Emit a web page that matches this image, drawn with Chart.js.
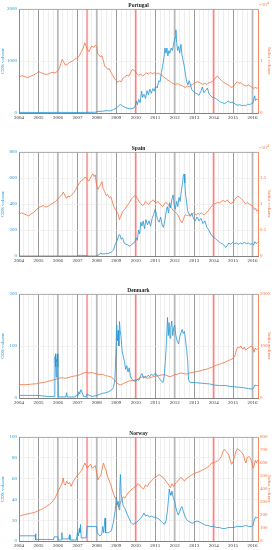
<!DOCTYPE html>
<html>
<head>
<meta charset="utf-8">
<script src="https://cdn.jsdelivr.net/npm/chart.js@4.4.1/dist/chart.umd.min.js"></script>
<style>
  html, body { margin: 0; padding: 0; background: #fff; }
  #wrap { position: relative; width: 278px; height: 550px; }
  #wrap canvas { position: absolute; left: 0; }
</style>
</head>
<body>
<div id="wrap"></div>
<script>
// CDS volume (left axis) and index volume (right axis), [year, value]

const cdsPortugal = [[2004.0,12],[2005.0,10],[2006.0,12],[2007.0,10],[2007.5,12],[2007.95,15],[2008.05,30],[2008.3,35],[2008.5,45],[2008.7,40],[2008.85,65],[2009.0,90],[2009.1,130],[2009.2,165],[2009.3,140],[2009.4,120],[2009.5,100],[2009.6,85],[2009.75,80],[2009.9,95],[2009.97,140],[2010.03,230],[2010.08,160],[2010.15,260],[2010.22,200],[2010.3,420],[2010.35,300],[2010.42,360],[2010.5,280],[2010.58,430],[2010.65,350],[2010.72,460],[2010.8,380],[2010.88,470],[2010.95,420],[2011.02,520],[2011.1,480],[2011.18,620],[2011.25,600],[2011.32,780],[2011.38,900],[2011.44,1050],[2011.5,1250],[2011.55,1150],[2011.6,1250],[2011.65,1100],[2011.7,1200],[2011.75,1150],[2011.82,1250],[2011.88,1200],[2011.93,1300],[2011.98,1380],[2012.02,1450],[2012.06,1600],[2012.1,1350],[2012.15,1200],[2012.2,1280],[2012.26,1150],[2012.32,1320],[2012.38,1100],[2012.44,1000],[2012.5,880],[2012.56,720],[2012.62,600],[2012.68,540],[2012.74,620],[2012.8,560],[2012.88,450],[2012.95,420],[2013.05,390],[2013.15,370],[2013.25,340],[2013.35,420],[2013.42,500],[2013.5,390],[2013.6,440],[2013.68,480],[2013.76,370],[2013.85,330],[2013.95,300],[2014.05,290],[2014.15,270],[2014.25,240],[2014.35,210],[2014.45,200],[2014.55,180],[2014.65,200],[2014.75,230],[2014.85,200],[2014.95,210],[2015.05,190],[2015.15,160],[2015.25,150],[2015.35,160],[2015.45,140],[2015.55,150],[2015.65,140],[2015.75,170],[2015.85,160],[2015.95,180],[2016.02,190],[2016.07,280],[2016.11,330],[2016.15,240],[2016.2,270],[2016.27,250]];

const idxPortugal = [[2004.0,6900],[2004.15,7200],[2004.3,7000],[2004.45,6800],[2004.6,7100],[2004.75,7300],[2004.9,7600],[2005.0,8000],[2005.1,7800],[2005.25,7600],[2005.4,7400],[2005.55,7600],[2005.7,7800],[2005.85,7700],[2006.0,8100],[2006.08,8700],[2006.15,9500],[2006.22,10300],[2006.3,9800],[2006.38,9200],[2006.5,9400],[2006.62,9800],[2006.75,10000],[2006.88,10400],[2007.0,10600],[2007.1,11000],[2007.2,11800],[2007.3,12500],[2007.38,13500],[2007.45,12800],[2007.52,12200],[2007.6,11800],[2007.68,12500],[2007.76,12900],[2007.84,12600],[2007.92,13000],[2008.0,12800],[2008.04,11400],[2008.1,11200],[2008.18,10800],[2008.26,11000],[2008.33,10200],[2008.4,9000],[2008.48,8800],[2008.56,8400],[2008.64,8500],[2008.72,7800],[2008.8,7400],[2008.9,6600],[2009.0,6300],[2009.08,5900],[2009.16,6200],[2009.25,6000],[2009.35,6700],[2009.45,7000],[2009.55,7300],[2009.65,7100],[2009.75,7900],[2009.82,8400],[2009.9,8200],[2009.98,8000],[2010.05,7600],[2010.15,7200],[2010.25,7500],[2010.35,7100],[2010.45,7400],[2010.55,7700],[2010.65,7500],[2010.75,7800],[2010.85,7600],[2010.95,7700],[2011.05,7500],[2011.15,7700],[2011.25,7400],[2011.35,7200],[2011.45,6900],[2011.55,6600],[2011.65,6300],[2011.75,6100],[2011.85,5800],[2011.95,5600],[2012.05,5500],[2012.15,5700],[2012.25,5400],[2012.35,5300],[2012.45,5100],[2012.55,4900],[2012.65,5200],[2012.75,5000],[2012.85,5400],[2012.95,5600],[2013.05,5800],[2013.15,6000],[2013.25,5900],[2013.35,5700],[2013.45,5500],[2013.55,5700],[2013.65,5500],[2013.75,5800],[2013.85,5900],[2013.95,6100],[2014.05,6500],[2014.12,6900],[2014.2,7100],[2014.28,6700],[2014.36,6400],[2014.45,6100],[2014.55,5800],[2014.65,5600],[2014.75,5400],[2014.85,5100],[2014.95,4900],[2015.05,5300],[2015.15,5800],[2015.22,6000],[2015.3,5700],[2015.4,5800],[2015.5,5500],[2015.6,5300],[2015.7,5200],[2015.8,5400],[2015.9,5100],[2016.0,4900],[2016.08,4700],[2016.15,5000],[2016.22,4700],[2016.27,4900]];

const cdsSpain = [[2004.0,0],[2006.95,0],[2007.0,4],[2007.2,5],[2007.4,4],[2007.5,3],[2007.55,0],[2007.95,0],[2008.0,4],[2008.1,8],[2008.2,22],[2008.3,15],[2008.45,18],[2008.6,20],[2008.75,30],[2008.85,45],[2008.95,90],[2009.05,120],[2009.12,160],[2009.18,165],[2009.25,130],[2009.32,140],[2009.4,100],[2009.5,90],[2009.6,85],[2009.7,75],[2009.8,90],[2009.9,100],[2009.97,115],[2010.02,140],[2010.08,120],[2010.14,200],[2010.2,170],[2010.26,260],[2010.32,230],[2010.38,270],[2010.45,210],[2010.52,280],[2010.6,240],[2010.68,270],[2010.76,230],[2010.84,290],[2010.92,320],[2011.0,360],[2011.06,320],[2011.12,280],[2011.2,260],[2011.28,300],[2011.35,240],[2011.42,220],[2011.5,280],[2011.56,340],[2011.62,380],[2011.68,330],[2011.74,410],[2011.8,370],[2011.86,440],[2011.92,470],[2011.97,400],[2012.03,360],[2012.1,420],[2012.16,380],[2012.22,450],[2012.28,420],[2012.34,500],[2012.4,560],[2012.44,610],[2012.48,630],[2012.52,560],[2012.56,470],[2012.6,430],[2012.66,350],[2012.72,330],[2012.8,310],[2012.88,330],[2012.96,290],[2013.05,270],[2013.15,300],[2013.25,270],[2013.35,290],[2013.45,250],[2013.55,270],[2013.65,220],[2013.75,200],[2013.85,170],[2013.95,150],[2014.05,140],[2014.15,125],[2014.25,115],[2014.35,100],[2014.45,95],[2014.55,80],[2014.62,65],[2014.7,80],[2014.78,100],[2014.88,90],[2014.98,105],[2015.08,95],[2015.18,100],[2015.28,90],[2015.38,100],[2015.48,95],[2015.58,105],[2015.68,95],[2015.78,100],[2015.88,90],[2015.98,95],[2016.05,85],[2016.12,110],[2016.2,95],[2016.27,105]];

const idxSpain = [[2004.0,8000],[2004.12,8300],[2004.25,8100],[2004.38,7900],[2004.5,7700],[2004.62,8100],[2004.75,8400],[2004.88,8800],[2005.0,9300],[2005.12,9500],[2005.25,9700],[2005.38,9400],[2005.5,9600],[2005.62,9900],[2005.75,10200],[2005.88,10500],[2006.0,11000],[2006.1,11400],[2006.2,11800],[2006.28,12300],[2006.36,11600],[2006.44,11100],[2006.52,11500],[2006.62,11400],[2006.72,11800],[2006.82,12200],[2006.92,12800],[2007.0,13400],[2007.1,14000],[2007.2,14500],[2007.3,14700],[2007.4,15200],[2007.5,14800],[2007.58,14400],[2007.66,14900],[2007.74,15500],[2007.8,15800],[2007.86,15300],[2007.92,15600],[2007.98,13800],[2008.05,12800],[2008.12,13300],[2008.2,13800],[2008.26,14300],[2008.32,13000],[2008.4,12400],[2008.48,11600],[2008.56,11800],[2008.64,11200],[2008.72,11400],[2008.8,10400],[2008.86,9600],[2008.94,9000],[2009.02,8600],[2009.1,8000],[2009.16,7000],[2009.22,7600],[2009.3,8300],[2009.38,8800],[2009.46,9100],[2009.54,9600],[2009.62,10000],[2009.7,10400],[2009.78,11000],[2009.86,11300],[2009.94,11600],[2010.02,11500],[2010.1,11000],[2010.18,10400],[2010.26,10100],[2010.34,9700],[2010.42,9900],[2010.5,10500],[2010.58,10200],[2010.66,9900],[2010.74,10300],[2010.82,10600],[2010.9,10800],[2010.98,10400],[2011.06,10200],[2011.14,10500],[2011.22,10100],[2011.3,9800],[2011.38,9500],[2011.46,9900],[2011.54,10300],[2011.62,10100],[2011.7,9700],[2011.78,9400],[2011.86,9100],[2011.94,8700],[2012.02,8400],[2012.1,8200],[2012.18,7800],[2012.26,7100],[2012.32,6600],[2012.38,6400],[2012.44,7000],[2012.5,7600],[2012.56,8000],[2012.64,7700],[2012.72,7900],[2012.8,7600],[2012.88,8000],[2012.96,8300],[2013.04,8100],[2013.12,7900],[2013.2,8200],[2013.28,8000],[2013.36,8300],[2013.44,8100],[2013.52,7900],[2013.6,8200],[2013.68,8500],[2013.76,8900],[2013.84,9300],[2013.92,9700],[2014.0,10000],[2014.1,10100],[2014.2,10300],[2014.3,10200],[2014.4,10500],[2014.5,10700],[2014.6,10400],[2014.7,10800],[2014.8,10300],[2014.9,10100],[2015.0,10400],[2015.08,10800],[2015.16,11200],[2015.24,11500],[2015.32,11300],[2015.4,11100],[2015.48,10800],[2015.56,10400],[2015.64,10000],[2015.72,10300],[2015.8,10100],[2015.88,9900],[2015.96,9700],[2016.04,9300],[2016.1,8900],[2016.16,9200],[2016.22,8600],[2016.27,8800]];

const cdsDenmark = [[2004.0,5],[2004.5,5],[2005.0,5],[2005.2,4],[2005.5,3],[2005.84,3],[2005.85,80],[2005.87,60],[2005.89,85],[2005.91,40],[2005.93,75],[2005.95,70],[2005.97,85],[2005.99,60],[2006.0,75],[2006.02,2],[2006.4,2],[2006.45,10],[2006.47,2],[2006.9,2],[2006.95,6],[2007.02,3],[2007.08,12],[2007.12,8],[2007.18,16],[2007.25,10],[2007.32,3],[2007.45,2],[2007.5,8],[2007.6,5],[2007.75,3],[2007.9,4],[2008.0,5],[2008.15,7],[2008.3,9],[2008.45,10],[2008.6,12],[2008.75,15],[2008.85,20],[2008.93,35],[2008.98,90],[2009.02,140],[2009.06,110],[2009.1,130],[2009.13,100],[2009.16,147],[2009.2,130],[2009.25,115],[2009.3,90],[2009.36,80],[2009.42,70],[2009.48,55],[2009.54,62],[2009.6,50],[2009.66,58],[2009.72,42],[2009.8,36],[2009.9,33],[2010.0,32],[2010.08,36],[2010.16,34],[2010.24,42],[2010.32,47],[2010.4,38],[2010.48,42],[2010.56,40],[2010.64,44],[2010.72,41],[2010.8,46],[2010.9,43],[2011.0,48],[2011.08,44],[2011.16,40],[2011.24,36],[2011.32,32],[2011.4,30],[2011.46,42],[2011.52,70],[2011.58,110],[2011.63,155],[2011.67,120],[2011.71,145],[2011.76,115],[2011.8,135],[2011.85,148],[2011.9,120],[2011.95,135],[2012.0,140],[2012.05,122],[2012.12,110],[2012.2,104],[2012.26,118],[2012.32,125],[2012.38,132],[2012.44,124],[2012.5,128],[2012.56,110],[2012.62,90],[2012.67,70],[2012.71,35],[2012.8,30],[2013.0,30],[2013.2,29],[2013.5,28],[2013.8,27],[2014.0,25],[2014.3,24],[2014.6,24],[2014.9,22],[2015.2,21],[2015.5,20],[2015.8,18],[2016.0,17],[2016.06,20],[2016.12,25],[2016.2,24],[2016.27,24]];

const idxDenmark = [[2004.0,260],[2004.3,255],[2004.6,265],[2004.9,275],[2005.0,285],[2005.3,300],[2005.6,330],[2005.9,360],[2006.0,375],[2006.2,390],[2006.4,380],[2006.6,400],[2006.8,420],[2007.0,430],[2007.15,450],[2007.3,480],[2007.45,495],[2007.6,480],[2007.75,490],[2007.9,470],[2008.0,460],[2008.15,450],[2008.3,455],[2008.45,430],[2008.6,420],[2008.75,400],[2008.9,350],[2009.0,300],[2009.1,270],[2009.2,250],[2009.3,265],[2009.4,285],[2009.5,300],[2009.6,320],[2009.7,330],[2009.85,340],[2010.0,345],[2010.1,360],[2010.2,380],[2010.3,400],[2010.4,410],[2010.5,390],[2010.6,380],[2010.75,390],[2010.9,410],[2011.0,420],[2011.15,430],[2011.3,440],[2011.45,450],[2011.6,430],[2011.75,410],[2011.9,430],[2012.0,450],[2012.15,460],[2012.3,480],[2012.45,470],[2012.6,460],[2012.75,480],[2012.9,490],[2013.0,500],[2013.15,510],[2013.3,520],[2013.45,540],[2013.6,550],[2013.75,570],[2013.9,590],[2014.0,610],[2014.15,630],[2014.3,650],[2014.45,670],[2014.6,690],[2014.75,720],[2014.9,740],[2015.0,760],[2015.08,800],[2015.14,880],[2015.2,960],[2015.26,980],[2015.32,960],[2015.4,1000],[2015.46,950],[2015.52,940],[2015.58,980],[2015.64,920],[2015.72,950],[2015.8,960],[2015.88,990],[2015.96,1000],[2016.02,960],[2016.08,880],[2016.14,960],[2016.2,930],[2016.27,950]];

const cdsNorway = [[2004.0,5],[2004.5,5],[2004.83,5],[2004.85,7],[2004.87,1],[2005.0,1.5],[2005.4,1.5],[2005.78,1.5],[2005.8,4],[2006.0,4],[2006.02,1],[2006.18,1],[2006.2,8],[2006.22,2],[2006.55,2],[2006.6,6],[2006.62,1],[2006.95,1],[2007.0,8],[2007.05,5],[2007.1,12],[2007.13,8],[2007.16,16],[2007.2,3],[2007.45,3],[2007.5,14],[2007.99,14],[2008.02,8],[2008.15,5],[2008.25,6],[2008.3,14],[2008.35,8],[2008.42,22],[2008.45,8],[2008.6,8],[2008.75,10],[2008.85,18],[2008.95,30],[2009.0,42],[2009.05,35],[2009.1,38],[2009.15,30],[2009.18,50],[2009.21,64],[2009.25,45],[2009.3,40],[2009.35,34],[2009.45,31],[2009.55,26],[2009.65,22],[2009.75,18],[2009.85,16],[2009.95,17],[2010.05,18],[2010.15,20],[2010.25,22],[2010.35,24],[2010.42,27],[2010.5,24],[2010.6,25],[2010.7,23],[2010.8,24],[2010.9,23],[2011.0,23],[2011.1,22],[2011.2,21],[2011.3,19],[2011.4,17],[2011.48,16],[2011.56,20],[2011.62,28],[2011.68,40],[2011.72,50],[2011.76,46],[2011.8,44],[2011.86,48],[2011.92,42],[2012.0,38],[2012.06,32],[2012.12,28],[2012.18,25],[2012.25,28],[2012.32,32],[2012.38,33],[2012.45,28],[2012.52,24],[2012.6,21],[2012.7,19],[2012.8,18],[2012.9,17],[2013.0,18],[2013.1,19],[2013.2,19],[2013.3,18],[2013.4,17],[2013.5,16],[2013.6,15],[2013.7,15],[2013.85,14],[2014.0,14],[2014.15,13],[2014.3,13],[2014.45,12],[2014.6,12],[2014.75,13],[2014.9,13],[2015.05,13],[2015.2,14],[2015.35,14],[2015.5,14],[2015.65,15],[2015.8,14],[2015.95,14],[2016.02,15],[2016.06,18],[2016.1,21],[2016.16,23],[2016.22,22],[2016.27,23]];

const idxNorway = [[2004.0,190],[2004.1,195],[2004.2,200],[2004.35,205],[2004.5,210],[2004.65,215],[2004.8,220],[2004.95,230],[2005.1,240],[2005.25,250],[2005.4,265],[2005.55,280],[2005.7,300],[2005.85,330],[2006.0,380],[2006.1,410],[2006.2,440],[2006.27,485],[2006.32,440],[2006.38,430],[2006.45,460],[2006.52,440],[2006.6,450],[2006.68,420],[2006.76,450],[2006.84,470],[2006.92,490],[2007.0,505],[2007.1,520],[2007.2,540],[2007.3,570],[2007.38,600],[2007.45,580],[2007.52,560],[2007.6,580],[2007.68,590],[2007.76,560],[2007.84,570],[2007.92,580],[2008.0,520],[2008.05,470],[2008.12,490],[2008.2,500],[2008.28,560],[2008.34,600],[2008.4,570],[2008.46,550],[2008.54,500],[2008.62,470],[2008.7,440],[2008.78,400],[2008.86,360],[2008.94,330],[2009.0,320],[2009.06,280],[2009.12,260],[2009.2,290],[2009.28,320],[2009.36,340],[2009.44,330],[2009.52,350],[2009.6,370],[2009.7,380],[2009.8,400],[2009.9,410],[2010.0,420],[2010.1,440],[2010.2,430],[2010.3,410],[2010.4,400],[2010.5,430],[2010.6,420],[2010.7,450],[2010.8,460],[2010.9,480],[2011.0,490],[2011.1,500],[2011.2,510],[2011.3,500],[2011.4,490],[2011.5,470],[2011.6,450],[2011.7,430],[2011.78,410],[2011.86,440],[2011.94,420],[2012.02,440],[2012.1,450],[2012.2,470],[2012.3,490],[2012.4,480],[2012.5,460],[2012.6,480],[2012.7,490],[2012.8,500],[2012.9,510],[2013.0,520],[2013.1,525],[2013.2,530],[2013.3,535],[2013.4,545],[2013.5,550],[2013.6,560],[2013.7,570],[2013.8,580],[2013.9,600],[2014.0,600],[2014.1,610],[2014.2,615],[2014.3,630],[2014.4,650],[2014.48,690],[2014.55,705],[2014.62,690],[2014.7,680],[2014.78,660],[2014.86,620],[2014.92,590],[2015.0,610],[2015.08,650],[2015.15,690],[2015.22,710],[2015.3,700],[2015.38,690],[2015.46,680],[2015.54,660],[2015.6,620],[2015.66,600],[2015.72,640],[2015.8,650],[2015.88,640],[2015.96,610],[2016.02,560],[2016.08,580],[2016.14,620],[2016.2,600],[2016.27,625]];

// axis ticks
const ticksCdsPortugal = [0, 1000, 2000];
const ticksIdxPortugal = [0, 10000, 20000];
const ticksCdsSpain = [0, 200, 400, 600, 800];
const ticksIdxSpain = [0, 5000, 10000, 15000, 20000];
const ticksCdsDenmark = [0, 100, 200];
const ticksIdxDenmark = [0, 1000, 2000];
const ticksCdsNorway = [0, 20, 40, 60, 80, 100];
const ticksIdxNorway = [0, 100, 200, 300, 400, 500, 600, 700, 800];

// event markers on the time axis
const grayBands = [2006, 2008, 2012, 2016];
const redLines = [2007.5, 2010, 2014];

const xMin = 2004, xMax = 2016.28;

const blue = '#2396d4';
const orange = '#f3703e';
const FONT = "'Liberation Serif', 'DejaVu Serif', serif";

function isYear(v) { return Math.abs(v - Math.round(v)) < 1e-6; }
function isQuarter(v) { return Math.abs(v * 4 - Math.round(v * 4)) < 1e-6; }

const eventLines = {
    id: 'eventLines',
    beforeDatasetsDraw(chart) {
        const { ctx, chartArea: a, scales: { x } } = chart;
        ctx.save();
        ctx.lineWidth = 2;
        ctx.strokeStyle = 'rgba(190,190,190,0.85)';
        grayBands.forEach(v => {
            const px = x.getPixelForValue(v);
            ctx.beginPath(); ctx.moveTo(px, a.top); ctx.lineTo(px, a.bottom); ctx.stroke();
        });
        ctx.strokeStyle = 'rgba(255,135,135,0.75)';
        redLines.forEach(v => {
            const px = x.getPixelForValue(v);
            ctx.beginPath(); ctx.moveTo(px, a.top); ctx.lineTo(px, a.bottom); ctx.stroke();
        });
        // top box line
        ctx.lineWidth = 0.8;
        ctx.strokeStyle = '#999';
        ctx.beginPath(); ctx.moveTo(a.left, a.top + 0.4); ctx.lineTo(a.right, a.top + 0.4); ctx.stroke();
        ctx.restore();
    }
};

const panelText = {
    id: 'panelText',
    afterDraw(chart, args, opts) {
        const { ctx, chartArea: a } = chart;
        ctx.save();
        ctx.fillStyle = '#222';
        ctx.font = `bold 5.5px ${FONT}`;
        ctx.textAlign = 'center';
        ctx.textBaseline = 'bottom';
        ctx.fillText(opts.title, (a.left + a.right) / 2, a.top - 1);
        if (opts.exponent) {
            ctx.fillStyle = orange;
            ctx.textAlign = 'left';
            ctx.font = `5px ${FONT}`;
            ctx.fillText('\u00d710', a.right + 1, a.top - 2);
            ctx.font = `3.5px ${FONT}`;
            ctx.fillText(opts.exponent, a.right + 9, a.top - 4.5);
        }
        ctx.restore();
    }
};

const panels = [
    { title: 'Portugal', cds: cdsPortugal, idx: idxPortugal, left: ticksCdsPortugal, right: ticksIdxPortugal, scale: 1e4, top: 0 },
    { title: 'Spain', cds: cdsSpain, idx: idxSpain, left: ticksCdsSpain, right: ticksIdxSpain, scale: 1e4, top: 143 },
    { title: 'Denmark', cds: cdsDenmark, idx: idxDenmark, left: ticksCdsDenmark, right: ticksIdxDenmark, scale: 1, top: 285 },
    { title: 'Norway', cds: cdsNorway, idx: idxNorway, left: ticksCdsNorway, right: ticksIdxNorway, scale: 1, top: 428 }
];

function toXY(arr) { return arr.map(d => ({ x: d[0], y: d[1] })); }

function makePanel(p) {
    const canvas = document.createElement('canvas');
    canvas.width = 278;
    canvas.height = 123;
    canvas.style.top = p.top + 'px';
    document.getElementById('wrap').appendChild(canvas);

    const lMax = p.left[p.left.length - 1];
    const rMax = p.right[p.right.length - 1];
    const tickFont = { family: FONT, size: 5 };

    return new Chart(canvas.getContext('2d'), {
        type: 'line',
        data: {
            datasets: [
                { label: 'CDS volume', data: toXY(p.cds), yAxisID: 'yL', borderColor: blue, borderWidth: 0.8, pointRadius: 0, tension: 0, order: 1 },
                { label: 'Index volume', data: toXY(p.idx), yAxisID: 'yR', borderColor: orange, borderWidth: 0.8, pointRadius: 0, tension: 0, order: 2 }
            ]
        },
        options: {
            responsive: false,
            animation: false,
            devicePixelRatio: 1,
            layout: { padding: { top: 9, right: 6, left: 0, bottom: 0 } },
            plugins: {
                legend: { display: false },
                tooltip: { enabled: false },
                panelText: { title: p.title, exponent: p.scale > 1 ? String(Math.log10(p.scale)) : '' }
            },
            scales: {
                x: {
                    type: 'linear', min: xMin, max: xMax,
                    ticks: {
                        stepSize: 0.25, autoSkip: false, maxRotation: 0, minRotation: 0, padding: 2,
                        color: '#333', font: tickFont,
                        callback: v => isYear(v) ? String(Math.round(v)) : ''
                    },
                    grid: {
                        drawTicks: false,
                        color: c => {
                            const v = c.tick ? c.tick.value : NaN;
                            if (isYear(v)) return '#8e8e8e';
                            if (isQuarter(v)) return '#e3e3e3';
                            return 'rgba(0,0,0,0)';
                        },
                        lineWidth: c => (c.tick && isYear(c.tick.value)) ? 0.9 : 0.6
                    },
                    border: { color: '#666', width: 0.8 },
                    afterFit: s => { s.height = 10; }
                },
                yL: {
                    type: 'linear', position: 'left', min: 0, max: lMax,
                    ticks: { stepSize: p.left[1] - p.left[0], color: blue, font: tickFont, padding: 2, callback: v => String(v) },
                    grid: { drawTicks: false, color: '#e9e9e9', lineWidth: 0.6 },
                    border: { color: '#888', width: 0.8 },
                    title: { display: true, text: 'CDS volume', color: blue, font: tickFont, padding: 0 },
                    afterFit: s => { s.width = 19; }
                },
                yR: {
                    type: 'linear', position: 'right', min: 0, max: rMax,
                    ticks: {
                        stepSize: p.right[1] - p.right[0], color: orange, font: tickFont, padding: 2,
                        callback: v => (p.scale > 1 && v === rMax) ? '' : String(+(v / p.scale).toFixed(2))
                    },
                    grid: { drawOnChartArea: false, drawTicks: false },
                    border: { color: orange, width: 0.8 },
                    title: { display: true, text: 'Index volume', color: orange, font: tickFont, padding: 0 },
                    afterFit: s => { s.width = 14; }
                }
            }
        },
        plugins: [eventLines, panelText]
    });
}

panels.forEach(makePanel);
</script>
</body>
</html>
